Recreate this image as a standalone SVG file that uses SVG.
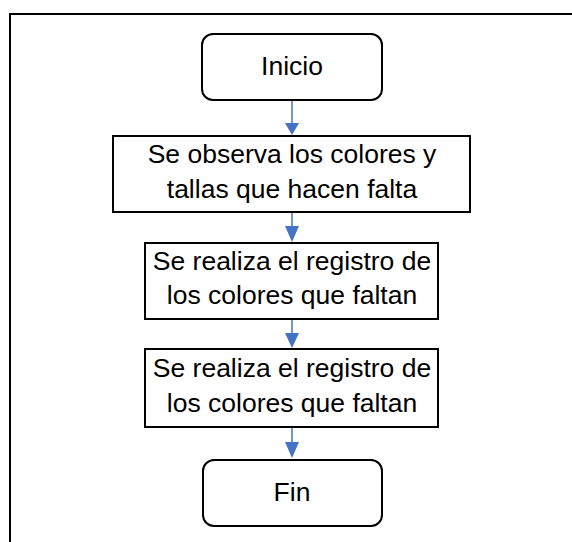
<svg xmlns="http://www.w3.org/2000/svg" width="572" height="542" viewBox="0 0 572 542">
<defs>
<style>
.box{fill:#fff;stroke:#000;stroke-width:2}
.t{font-family:"Liberation Sans",Arial,sans-serif;font-size:26.5px;fill:#000;text-anchor:middle}
.c{stroke:#4472C4;stroke-width:1.5;fill:none}
.h{fill:#4472C4}
</style>
</defs>
<rect x="0" y="0" width="572" height="542" fill="#fff"/>
<path d="M10,542 V14 H572" fill="none" stroke="#000" stroke-width="2"/>
<g id="connectors">
<line class="c" x1="292" y1="101" x2="292" y2="124"/>
<polygon class="h" points="285,123 299,123 292,135"/>
<line class="c" x1="292" y1="213" x2="292" y2="227"/>
<polygon class="h" points="285,226 299,226 292,242"/>
<line class="c" x1="292" y1="320" x2="292" y2="334"/>
<polygon class="h" points="285,333 299,333 292,348"/>
<line class="c" x1="292" y1="428" x2="292" y2="443"/>
<polygon class="h" points="285,442 299,442 292,458"/>
</g>
<g id="inicio">
<rect class="box" x="202" y="34" width="180" height="66" rx="11"/>
<text class="t" x="292" y="75">Inicio</text>
</g>
<g id="observa">
<rect class="box" x="113" y="136" width="357" height="76"/>
<text class="t" x="292" y="163">Se observa los colores y</text>
<text class="t" x="292" y="198">tallas que hacen falta</text>
</g>
<g id="registro1">
<rect class="box" x="145" y="243" width="293" height="76"/>
<text class="t" x="292" y="270">Se realiza el registro de</text>
<text class="t" x="292" y="304">los colores que faltan</text>
</g>
<g id="registro2">
<rect class="box" x="145" y="349" width="293" height="78"/>
<text class="t" x="292" y="377">Se realiza el registro de</text>
<text class="t" x="292" y="412">los colores que faltan</text>
</g>
<g id="fin">
<rect class="box" x="203" y="460" width="179" height="66" rx="11"/>
<text class="t" x="292" y="501">Fin</text>
</g>
</svg>
